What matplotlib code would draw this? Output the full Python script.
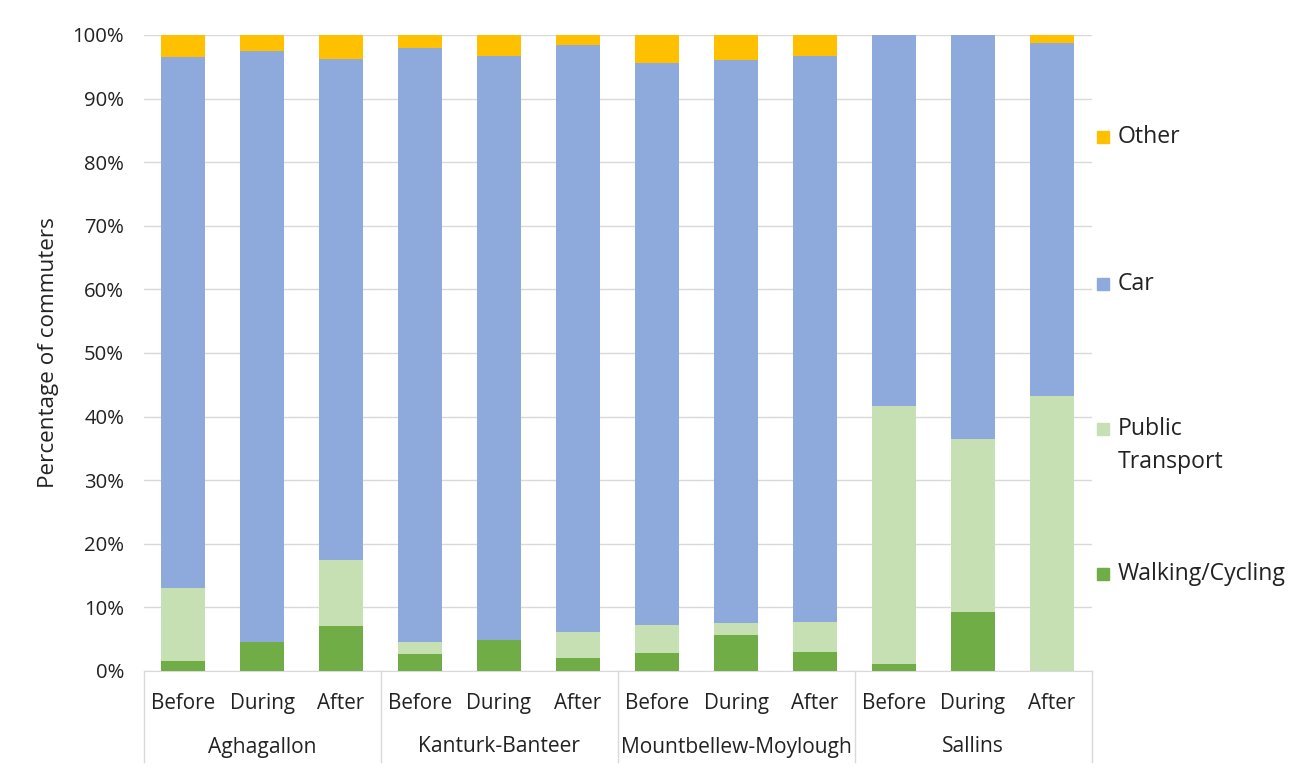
import matplotlib
matplotlib.use("Agg")
import matplotlib.pyplot as plt
from matplotlib.patches import Rectangle
import numpy as np

plt.rcParams['font.family'] = ['Open Sans', 'DejaVu Sans']

groups = ["Aghagallon", "Kanturk-Banteer", "Mountbellew-Moylough", "Sallins"]
periods = ["Before", "During", "After"]
walking = [1.6, 4.6, 7.1, 2.6, 4.9, 2.0, 2.9, 5.7, 3.0, 1.05, 9.2, 0.0]
public = [11.5, 0.0, 10.4, 2.0, 0.0, 4.2, 4.3, 1.9, 4.7, 40.65, 27.2, 43.3]
other = [3.4, 2.5, 3.7, 2.1, 3.3, 1.5, 4.4, 3.9, 3.3, 0.0, 0.0, 1.2]
car = [100 - w - p - o for w, p, o in zip(walking, public, other)]

series = [("Walking/Cycling", walking, "#70AD47"),
          ("Public Transport", public, "#C6E0B4"),
          ("Car", car, "#8EA9DB"),
          ("Other", other, "#FFC000")]

TXT = "#222222"
W, H = 1293, 774
fig = plt.figure(figsize=(W / 100, H / 100), dpi=100)
ax = fig.add_axes([143.5 / W, (H - 671) / H, 948 / W, 636 / H])

x = np.arange(len(walking))
bottom = np.zeros(len(walking))
for name, vals, col in series:
    ax.bar(x, vals, bottom=bottom, width=0.55, color=col, zorder=3)
    bottom += np.array(vals)

ax.set_xlim(-0.5, len(walking) - 0.5)
ax.set_ylim(0, 100)
ax.set_yticks(np.arange(0, 101, 10))
ax.set_yticklabels([f"{v}%" for v in range(0, 101, 10)])
ax.yaxis.grid(True, color="#D9D9D9", linewidth=1.0, zorder=0)
ax.set_axisbelow(True)
for s in ["left", "right", "top"]:
    ax.spines[s].set_visible(False)
ax.spines["bottom"].set_color("#D9D9D9")
ax.tick_params(axis="y", length=0, pad=14, labelsize=14.6, labelcolor=TXT)
ax.set_xticks(x)
ax.set_xticklabels(periods * len(groups))
ax.tick_params(axis="x", length=0, pad=16, labelsize=14.9, labelcolor=TXT)
ax.set_ylabel("Percentage of commuters", fontsize=16.2, color=TXT, labelpad=10)

trans = ax.get_xaxis_transform()
for b in [-0.5, 2.5, 5.5, 8.5, 11.5]:
    ax.plot([b, b], [0, -(762 - 671) / 636], color="#D9D9D9", lw=1.0,
            transform=trans, clip_on=False)
for i, g in enumerate(groups):
    ax.text(i * 3 + 1, -(747 - 671) / 636, g, transform=trans, ha="center",
            va="center", fontsize=15.1, color=TXT)

# legend (manual placement, top to bottom, as in the reference)
legend_items = [("Other", "#FFC000", [137]),
                ("Car", "#8EA9DB", [284]),
                ("Public\nTransport", "#C6E0B4", [429, 462]),
                ("Walking/Cycling", "#70AD47", [574])]
for label, col, ys in legend_items:
    fig.add_artist(Rectangle((1097 / W, (H - ys[0] - 6) / H), 12 / W, 12 / H,
                             transform=fig.transFigure, color=col))
    for line, yc in zip(label.split("\n"), ys):
        fig.text(1118 / W, (H - yc) / H, line, ha="left", va="center",
                 fontsize=16.6, color=TXT)

fig.savefig("out.png", dpi=100)
